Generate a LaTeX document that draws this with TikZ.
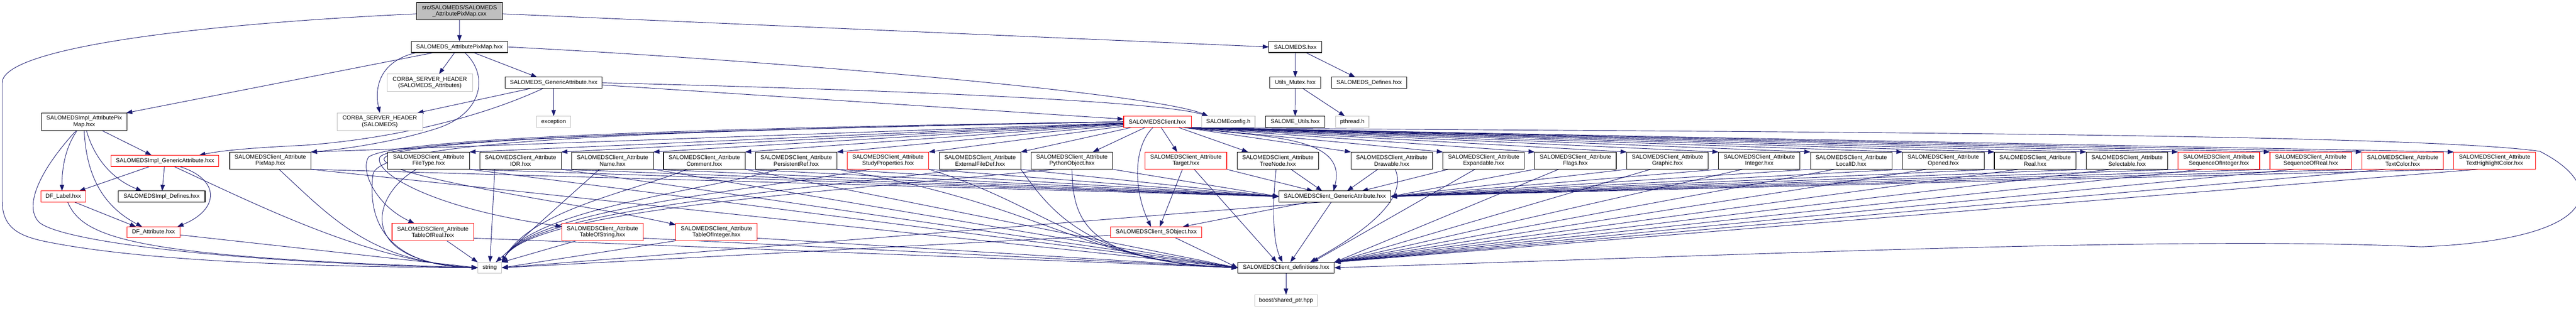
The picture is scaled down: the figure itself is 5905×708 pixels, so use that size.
\documentclass[tikz,border=0pt]{standalone}
\usepackage{fontspec}
\setmainfont{Liberation Sans}
\usetikzlibrary{arrows.meta,backgrounds}
\definecolor{edgec}{HTML}{191970}
\definecolor{gbord}{HTML}{BFBFBF}
\definecolor{rbord}{HTML}{FF0000}
\tikzset{
 boxk/.style={draw=black, line width=1.3pt, fill=white, inner sep=0pt, outer sep=0pt, align=center, text=black, font=\fontsize{13.2}{14.5}\selectfont},
 boxr/.style={boxk, draw=rbord},
 boxg/.style={boxk, draw=gbord},
 boxs/.style={boxk, fill=gbord},
 attr/.style={minimum width=186.9pt, minimum height=39.8pt},
 edg/.style={draw=edgec, line width=1.1pt, -{Triangle[length=14pt,width=10pt]}}
}
\begin{document}
\begin{tikzpicture}[x=1pt,y=-1pt]
\useasboundingbox (0,0) rectangle (5905,708);
% ---- nodes ----
\node[boxs, minimum width=196.8pt, minimum height=39.7pt] (src) at (1053.2,25.75) {src/SALOMEDS/SALOMEDS\\\_AttributePixMap.cxx};
\node[boxk, minimum width=221.3pt, minimum height=25.7pt] (apm) at (1053.25,107.65) {SALOMEDS\_AttributePixMap.hxx};
\node[boxk, minimum width=121.3pt, minimum height=25.7pt] (sds) at (2969.2,107.65) {SALOMEDS.hxx};
\node[boxg, minimum width=195.8pt, minimum height=39.7pt] (corbaA) at (985.3,189.65) {CORBA\_SERVER\_HEADER\\(SALOMEDS\_Attributes)};
\node[boxk, minimum width=222.7pt, minimum height=25.7pt] (sgen) at (1269.15,189.85) {SALOMEDS\_GenericAttribute.hxx};
\node[boxk, minimum width=117.5pt, minimum height=25.7pt] (mutex) at (2969.15,189.85) {Utils\_Mutex.hxx};
\node[boxk, minimum width=173.2pt, minimum height=25.7pt] (sdef) at (3138.6,189.85) {SALOMEDS\_Defines.hxx};
\node[boxg, minimum width=195.8pt, minimum height=40pt] (corbaS) at (870.6,279) {CORBA\_SERVER\_HEADER\\(SALOMEDS)};
\node[boxg, minimum width=78.3pt, minimum height=25.7pt] (exc) at (1269.15,279.2) {exception};
\node[boxr, minimum width=154.8pt, minimum height=25.7pt] (cl) at (2653.1,279.2) {SALOMEDSClient.hxx};
\node[boxg, minimum width=122.3pt, minimum height=25.7pt] (scfg) at (2815.75,279.2) {SALOMEconfig.h};
\node[boxk, minimum width=134.9pt, minimum height=25.7pt] (sutil) at (2968.95,279.2) {SALOME\_Utils.hxx};
\node[boxg, minimum width=76pt, minimum height=25.7pt] (pth) at (3099.9,279.2) {pthread.h};
\node[boxk, minimum width=196.3pt, minimum height=40pt] (ipm) at (193.05,279) {SALOMEDSImpl\_AttributePix\\Map.hxx};
% row of client attributes
\node[boxk, attr, minimum width=185.9pt] (cpm) at (619.65,368.4) {SALOMEDSClient\_Attribute\\PixMap.hxx};
\node[boxk, attr] (cft) at (982.65,368.4) {SALOMEDSClient\_Attribute\\FileType.hxx};
\node[boxk, attr] (cior) at (1193.15,368.4) {SALOMEDSClient\_Attribute\\IOR.hxx};
\node[boxk, attr] (cname) at (1404.1,368.4) {SALOMEDSClient\_Attribute\\Name.hxx};
\node[boxk, attr] (ccom) at (1614.5,368.4) {SALOMEDSClient\_Attribute\\Comment.hxx};
\node[boxk, attr] (cpr) at (1825.2,368.4) {SALOMEDSClient\_Attribute\\PersistentRef.hxx};
\node[boxr, attr] (csp) at (2035.65,368.4) {SALOMEDSClient\_Attribute\\StudyProperties.hxx};
\node[boxk, attr] (cefd) at (2246.55,368.4) {SALOMEDSClient\_Attribute\\ExternalFileDef.hxx};
\node[boxk, attr] (cpo) at (2457.25,368.4) {SALOMEDSClient\_Attribute\\PythonObject.hxx};
\node[boxr, attr] (ctg) at (2718.45,368.4) {SALOMEDSClient\_Attribute\\Target.hxx};
\node[boxk, attr] (ctn) at (2929.3,368.4) {SALOMEDSClient\_Attribute\\TreeNode.hxx};
\node[boxk, attr] (cdr) at (3190.25,368.4) {SALOMEDSClient\_Attribute\\Drawable.hxx};
\node[boxk, attr] (cex) at (3401.0,368.4) {SALOMEDSClient\_Attribute\\Expandable.hxx};
\node[boxk, attr] (cfl) at (3611.35,368.4) {SALOMEDSClient\_Attribute\\Flags.hxx};
\node[boxk, attr] (cgr) at (3822.35,368.4) {SALOMEDSClient\_Attribute\\Graphic.hxx};
\node[boxk, attr] (cint) at (4032.8,368.4) {SALOMEDSClient\_Attribute\\Integer.hxx};
\node[boxk, attr] (clid) at (4243.6,368.4) {SALOMEDSClient\_Attribute\\LocalID.hxx};
\node[boxk, attr] (cop) at (4454.6,368.4) {SALOMEDSClient\_Attribute\\Opened.hxx};
\node[boxk, attr] (creal) at (4665.1,368.4) {SALOMEDSClient\_Attribute\\Real.hxx};
\node[boxk, attr] (csel) at (4875.85,368.4) {SALOMEDSClient\_Attribute\\Selectable.hxx};
\node[boxr, attr] (csqi) at (5086.4,368.4) {SALOMEDSClient\_Attribute\\SequenceOfInteger.hxx};
\node[boxr, attr] (csqr) at (5296.85,368.4) {SALOMEDSClient\_Attribute\\SequenceOfReal.hxx};
\node[boxr, attr] (ctc) at (5507.6,368.4) {SALOMEDSClient\_Attribute\\TextColor.hxx};
\node[boxr, attr] (cthc) at (5718.35,368.4) {SALOMEDSClient\_Attribute\\TextHighlightColor.hxx};
\node[boxr, minimum width=246.9pt, minimum height=25.7pt] (igen) at (378.25,368.65) {SALOMEDSImpl\_GenericAttribute.hxx};
% lower rows
\node[boxr, minimum width=102.4pt, minimum height=25.3pt] (dfl) at (145.1,450.6) {DF\_Label.hxx};
\node[boxk, minimum width=199.1pt, minimum height=25.3pt] (idef) at (370.45,450.6) {SALOMEDSImpl\_Defines.hxx};
\node[boxk, minimum width=256.2pt, minimum height=25.3pt] (cgen) at (3059.8,450.6) {SALOMEDSClient\_GenericAttribute.hxx};
\node[boxr, attr, minimum height=39.7pt] (trl) at (992.15,532.25) {SALOMEDSClient\_Attribute\\TableOfReal.hxx};
\node[boxr, attr, minimum height=39.7pt] (tst) at (1381.05,532.25) {SALOMEDSClient\_Attribute\\TableOfString.hxx};
\node[boxr, attr, minimum height=39.7pt] (tint) at (1642.3,532.25) {SALOMEDSClient\_Attribute\\TableOfInteger.hxx};
\node[boxr, minimum width=121.3pt, minimum height=25.4pt] (dfa) at (351.85,532.7) {DF\_Attribute.hxx};
\node[boxr, minimum width=209pt, minimum height=25.4pt] (sobj) at (2650.5,532.7) {SALOMEDSClient\_SObject.hxx};
\node[boxg, minimum width=55.2pt, minimum height=25.2pt] (str) at (1122.6,614) {string};
\node[boxk, minimum width=221.3pt, minimum height=25.2pt] (defs) at (2947.95,614) {SALOMEDSClient\_definitions.hxx};
\node[boxg, minimum width=143.9pt, minimum height=26.2pt] (boost) at (2947.95,688.9) {boost/shared\_ptr.hpp};
% ---- edges ----
\begin{scope}[on background layer]
\fill[white] (0,0) rectangle (5905,708);
% source file
\draw[edg] (src) -- (apm);
\draw[edg] ([yshift=-6pt]src.east) -- (sds.west);
\draw[edg] ([yshift=-6pt]src.west) .. controls (450,55) and (5,110) .. (5,190) -- (5,460) .. controls (5,520) and (40,540) .. (100,553) .. controls (350,605) and (800,612) .. (str.west);
% SALOMEDS_AttributePixMap.hxx
\draw[edg] ([xshift=-11pt]apm.south) -- ([xshift=21pt]corbaA.north);
\draw[edg] ([xshift=-98pt]apm.south) .. controls (870,140) and (858,200) .. (corbaS.north);
\draw[edg] ([xshift=32pt]apm.south) -- ([xshift=-38pt]sgen.north);
\draw[edg] ([xshift=-58pt]apm.south) -- ([xshift=-2pt]ipm.north east);
\draw[edg] ([xshift=12pt]apm.south) .. controls (1120,170) and (1110,260) .. (1000,295) .. controls (890,330) and (760,345) .. (cpm.north east);
\draw[edg] (apm.east) .. controls (1800,140) and (2650,215) .. ([xshift=15pt]scfg.north west);
% SALOMEDS_GenericAttribute.hxx
\draw[edg] (sgen) -- (exc);
\draw[edg] ([xshift=-52pt]sgen.south) -- ([xshift=-12pt]corbaS.north east);
\draw[edg] ([xshift=-24pt]sgen.south) .. controls (1100,270) and (900,318) .. (700,333) .. controls (600,338) and (520,343) .. ([xshift=-45pt]igen.north east);
\draw[edg] (sgen.east) .. controls (2000,205) and (2650,230) .. ([xshift=15pt]scfg.north west);
\draw[edg] ([yshift=-5pt]sgen.east) -- ([yshift=6pt]cl.west);
% SALOMEDS.hxx
\draw[edg] (sds) -- (mutex);
\draw[edg] ([xshift=24pt]sds.south) -- ([xshift=-32pt]sdef.north);
\draw[edg] (mutex) -- (sutil);
\draw[edg] ([xshift=17pt]mutex.south) -- ([xshift=-17pt]pth.north);
% SALOMEDSImpl side
\draw[edg] ([xshift=-18pt]ipm.south) .. controls (100,380) and (50,470) .. (90,510) .. controls (150,560) and (600,605) .. (str.west);
\draw[edg] ([xshift=-16pt]ipm.south) .. controls (148,340) and (142,390) .. ([xshift=-3pt]dfl.north);
\draw[edg] (ipm.south) .. controls (198,420) and (250,480) .. ([xshift=-26pt]dfa.north);
\draw[edg] ([xshift=5pt]ipm.south) .. controls (215,360) and (255,410) .. ([xshift=-45pt]idef.north);
\draw[edg] ([xshift=40pt]ipm.south) -- ([xshift=-31pt]igen.north);
\draw[edg] ([xshift=-34pt]igen.south) -- ([xshift=-15pt]dfl.north east);
\draw[edg] (igen) -- (idef);
\draw[edg] ([xshift=32pt]igen.south) .. controls (505,410) and (505,480) .. ([xshift=-6pt]dfa.north east);
\draw[edg] ([xshift=20pt]igen.south) .. controls (600,475) and (850,600) .. (str.west);
\draw[edg] ([xshift=25pt]dfl.south) -- ([xshift=-40pt]dfa.north);
\draw[edg] ([xshift=10pt]dfl.south) .. controls (190,545) and (300,590) .. (str.west);
\draw[edg] ([yshift=-6pt]dfa.east) -- (str.west);
% SALOMEDSClient.hxx to the attribute headers
\foreach \nm in {cpm,cft,cior,cname,ccom,cpr,csp,cefd} {\draw[edg] (cl) -- (\nm.north east);}
\draw[edg] (cl) -- ([xshift=48pt]cpo.north);
\draw[edg] (cl) -- ([xshift=-20pt]ctg.north);
\draw[edg] ([xshift=-30pt]cl.south east) -- ([xshift=25pt]ctn.north west);
\foreach \nm in {cdr,cex,cfl,cgr,cint,clid,cop,creal,csel,csqi,csqr,ctc,cthc} {\draw[edg] ([xshift=-20pt]cl.south east) -- (\nm.north west);}
\draw[edg] (cl.west) .. controls (1500,295) and (900,320) .. (845,360) .. controls (825,390) and (860,470) .. ([xshift=-42pt]trl.north);
\draw[edg] (cl.west) .. controls (1500,300) and (870,320) .. (855,400) .. controls (840,520) and (900,610) .. (str.west);
\draw[edg] (cl.west) .. controls (1500,300) and (880,322) .. (870,362) .. controls (860,400) and (1000,480) .. ([yshift=13pt]tst.west);
\draw[edg] (cl.west) .. controls (1500,300) and (885,322) .. (880,365) .. controls (890,410) and (1350,470) .. ([yshift=17pt]tint.west);
\draw[edg] ([xshift=-10pt]cl.south) .. controls (2595,340) and (2600,440) .. ([xshift=-12pt]sobj.north);
\draw[edg] ([xshift=-20pt]cl.south east) .. controls (2900,315) and (3090,310) .. ([xshift=-3pt]cgen.north);
\draw[edg] ([xshift=-10pt]cl.south east) .. controls (3500,302) and (5500,300) .. (5822,347) .. controls (5985,430) and (5955,550) .. (5550,566) .. controls (5000,540) and (4000,585) .. (defs.east);
% attribute headers, left group
\draw[edg] ([xshift=20pt]cpm.south) .. controls (760,500) and (850,600) .. (str.west);
\draw[edg] ([xshift=-28pt]cft.south) .. controls (860,440) and (800,600) .. (str.west);
\draw[edg] ([xshift=-59pt]cior.south) -- (str);
\draw[edg] ([xshift=-30pt]cname.south) -- (str);
\foreach \nm/\cxa in {ccom/1450,cpr/1600,csp/1700,cefd/1800,cpo/1900} {\draw[edg] ([xshift=-40pt]\nm.south) .. controls (\cxa,440) and (1220,480) .. (str.north east);}
\foreach \nm in {cpm,cft,cior,cname,ccom,cpr,csp,cefd,cpo} {\draw[edg] (\nm.south east) -- (cgen.west);}
\foreach \nm in {cpm,cft,cior,cname,ccom} {\draw[edg] (\nm.south east) -- (defs.west);}
\foreach \nm in {cpr,csp,cefd} {\draw[edg] (\nm.south east) .. controls (2400,470) and (2480,600) .. (defs.west);}
\draw[edg] (cpo.south) .. controls (2460,500) and (2480,600) .. (defs.west);
% Target, TreeNode, Drawable, Expandable
\draw[edg] ([xshift=-8pt]ctg.south) -- ([xshift=8pt]sobj.north);
\draw[edg] (ctg.south east) -- ([xshift=-50pt]cgen.north);
\draw[edg] ([xshift=19pt]ctg.south) -- ([xshift=-21pt]defs.north);
\draw[edg] ([xshift=30pt]ctn.south) -- ([xshift=-29pt]cgen.north);
\draw[edg] ([xshift=-4pt]ctn.south) .. controls (2918,450) and (2915,550) .. ([xshift=-8pt]defs.north);
\draw[edg] ([xshift=-32pt]cdr.south) -- ([xshift=28pt]cgen.north);
\draw[edg] ([xshift=8pt]cdr.south) .. controls (3225,450) and (3150,520) .. ([xshift=55pt]defs.north);
\draw[edg] ([xshift=12pt]cex.south west) -- ([xshift=62pt]cgen.north);
\draw[edg] ([xshift=-20pt]cex.south) -- ([xshift=60pt]defs.north);
% right group
\foreach \nm in {cfl,cgr,cint,clid,cop,creal,csel,csqi,csqr,ctc,cthc} {\draw[edg] (\nm.south west) -- (cgen.east); \draw[edg] ([xshift=55pt]\nm.south west) -- (defs.north east);}
% tables
\draw[edg] ([xshift=32pt]trl.south) -- (str.north west);
\draw[edg] ([yshift=6pt]trl.south east) -- (defs.west);
\draw[edg] ([xshift=-60pt]tst.south) -- (str.north east);
\draw[edg] ([yshift=6pt]tst.south east) -- (defs.west);
\draw[edg] (tint.south west) -- (str.east);
\draw[edg] ([yshift=6pt]tint.south east) -- (defs.west);
% generic attribute, SObject, definitions
\draw[edg] ([xshift=-60pt]cgen.south) -- ([xshift=-44pt]sobj.north east);
\draw[edg] ([xshift=-26pt]cgen.south) -- (str.east);
\draw[edg] ([xshift=-8pt]cgen.south) -- ([xshift=10pt]defs.north);
\draw[edg] ([yshift=-7pt]sobj.west) -- (str.east);
\draw[edg] ([xshift=44pt]sobj.south) -- (defs.west);
\draw[edg] (defs) -- (boost);
\end{scope}
\end{tikzpicture}
\end{document}
